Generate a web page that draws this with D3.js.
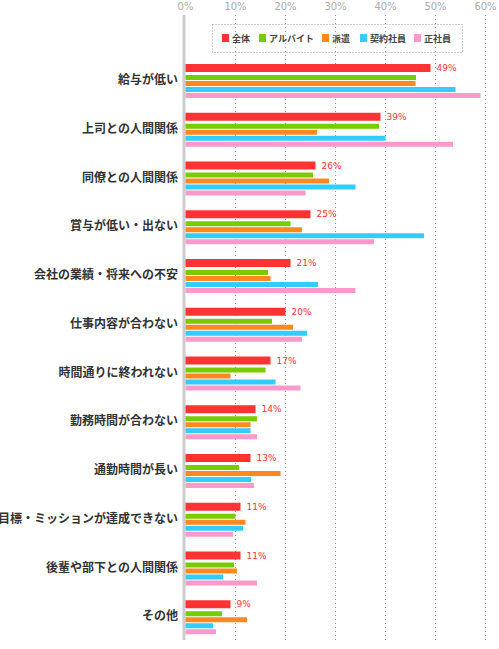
<!DOCTYPE html><html><head><meta charset="utf-8"><script src="https://cdn.jsdelivr.net/npm/d3@7"></script>
<style>body{margin:0;background:#fff}</style></head><body><svg id="c" width="499" height="649"></svg><script>
const categories=["給与が低い","上司との人間関係","同僚との人間関係","賞与が低い・出ない","会社の業績・将来への不安","仕事内容が合わない","時間通りに終われない","勤務時間が合わない","通勤時間が長い","目標・ミッションが達成できない","後輩や部下との人間関係","その他"];
const seriesNames=["全体","アルバイト","派遣","契約社員","正社員"];
const zentai=[49,39,26,25,21,20,17,14,13,11,11,9];
const arubaito=[46.1,38.7,25.5,21,16.5,17.3,16,14.3,10.7,10,9.7,7.3];
const haken=[46,26.3,28.7,23.3,17,21.5,9,13,19,12,10.3,12.3];
const keiyaku=[54,40,34,47.7,26.5,24.3,18,13,13.1,11.5,7.5,5.5];
const seishain=[59,53.5,24,37.7,34,23.3,23,14.3,13.7,9.5,14.3,6.1];
const ticks=[0,10,20,30,40,50,60];
const colors=["#ff3333","#77cc00","#ff8822","#33ccff","#ff99cc"];
const series=[zentai,arubaito,haken,keiyaku,seishain];
const svg=d3.select("#c");
const x=d3.scaleLinear().domain([0,60]).range([185.5,485.5]);
const y=d3.scaleBand().domain(categories).range([56,641]).paddingInner(0);
const font="'Noto Sans CJK JP',sans-serif";
svg.append("g").selectAll("line").data(ticks.slice(1)).join("line")
 .attr("x1",d=>x(d)).attr("x2",d=>x(d)).attr("y1",15).attr("y2",640)
 .attr("stroke","#999").attr("stroke-dasharray","1,3");
svg.append("g").selectAll("text").data(ticks).join("text")
 .attr("x",d=>x(d)).attr("y",10).attr("text-anchor","middle").attr("fill","#aaa")
 .attr("font-size",10).attr("font-family","Verdana,'DejaVu Sans',sans-serif").text(d=>d+"%");
svg.append("rect").attr("x",182.5).attr("y",15).attr("width",3).attr("height",625).attr("fill","#ccc");
svg.append("rect").attr("x",212.5).attr("y",24.5).attr("width",250).attr("height",28)
 .attr("fill","none").attr("stroke","#999").attr("stroke-dasharray","1,2");
const lx=[222,259,322,360,414];
const lg=svg.append("g").selectAll("g").data(seriesNames).join("g").attr("transform",(d,i)=>`translate(${lx[i]},34)`);
lg.append("rect").attr("width",7).attr("height",8).attr("fill",(d,i)=>colors[i]);
lg.append("text").attr("x",10).attr("y",8).attr("font-size",9).attr("font-weight","bold").attr("fill","#444").attr("font-family",font).text(d=>d);
const offs=[[8,8],[19,5],[25,5],[31,5],[37,5]];
const g=svg.append("g").selectAll("g").data(categories).join("g").attr("transform",d=>`translate(0,${y(d)})`);
series.forEach((s,si)=>{
 g.append("rect").attr("x",x(0)).attr("y",offs[si][0]).attr("height",offs[si][1])
  .attr("width",(d,i)=>x(s[i])-x(0)).attr("fill",colors[si]);
});
g.append("text").attr("x",(d,i)=>x(zentai[i])+6).attr("y",15).attr("font-size",9).attr("fill","#ff3333")
 .attr("font-family","Verdana,'DejaVu Sans',sans-serif").text((d,i)=>zentai[i]+"%");
g.append("text").attr("x",178).attr("y",28).attr("text-anchor","end").attr("font-size",12).attr("font-weight","bold")
 .attr("fill","#333").attr("font-family",font).text(d=>d);
</script></body></html>
